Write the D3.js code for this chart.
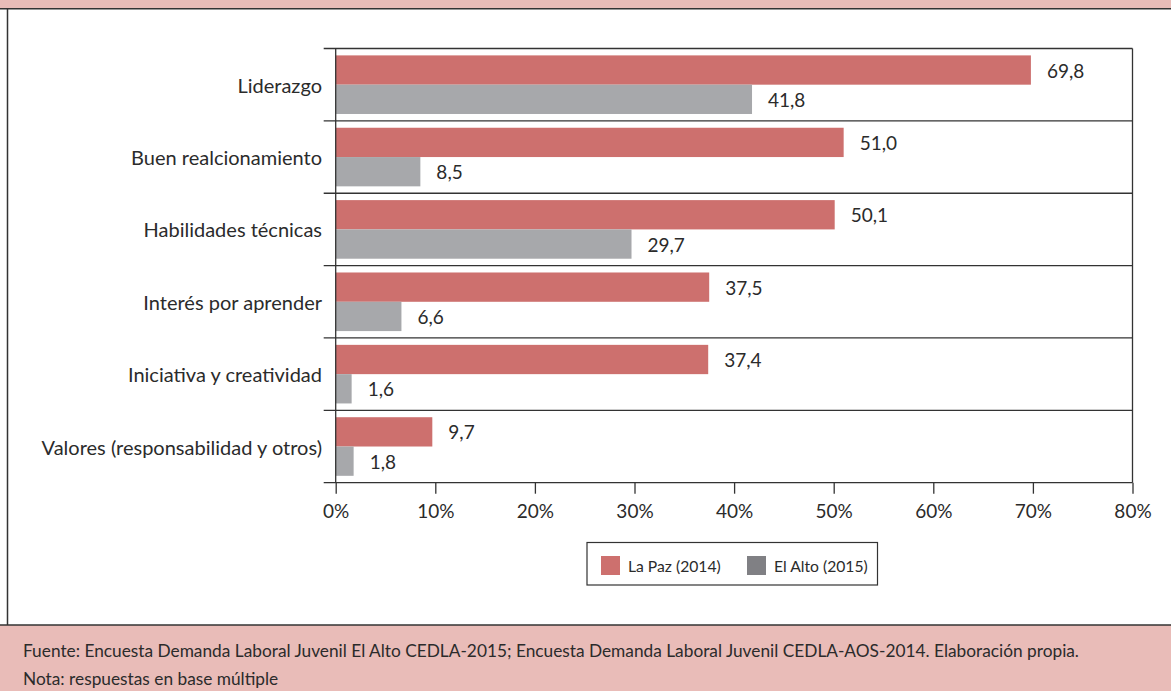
<!DOCTYPE html>
<html>
<head>
<meta charset="utf-8">
<script src="https://cdn.jsdelivr.net/npm/d3@7"></script>
<style>
  html, body { margin: 0; padding: 0; background: #ffffff; }
  svg { display: block; }
  text { font-family: Lato, "Open Sans", sans-serif; fill: #2b2b2b; }
</style>
</head>
<body>
<svg id="chart" width="1171" height="691"></svg>
<script>
// Competencias valoradas por los empleadores (% de respuestas)
const categories = [
  "Liderazgo",
  "Buen realcionamiento",
  "Habilidades técnicas",
  "Interés por aprender",
  "Iniciativa y creatividad",
  "Valores (responsabilidad y otros)"
];
const seriesNames = ["La Paz (2014)", "El Alto (2015)"];
const laPaz  = [69.8, 51.0, 50.1, 37.5, 37.4, 9.7];
const elAlto = [41.8, 8.5, 29.7, 6.6, 1.6, 1.8];
const xTicks = [0, 10, 20, 30, 40, 50, 60, 70, 80];
const sourceLines = [
  "Fuente: Encuesta Demanda Laboral Juvenil El Alto CEDLA-2015; Encuesta Demanda Laboral Juvenil CEDLA-AOS-2014. Elaboración propia.",
  "Nota: respuestas en base múltiple"
];

const barColors = ["#cd706e", "#a7a8ab"];
const legendColors = ["#cd706e", "#808084"];
const lineColor = "#333333";
const bandFill = "#e9bcb8";

const W = 1171, H = 691;
const svg = d3.select("#chart");

// Marco de la figura: franja superior, borde izquierdo y pie
svg.append("rect").attr("x", 0).attr("y", 0).attr("width", W).attr("height", 8.5).attr("fill", bandFill);
svg.append("line").attr("x1", 0).attr("x2", W).attr("y1", 8.75).attr("y2", 8.75)
  .attr("stroke", lineColor).attr("stroke-width", 1.5);
svg.append("line").attr("x1", 7.5).attr("x2", 7.5).attr("y1", 8.75).attr("y2", 625)
  .attr("stroke", lineColor).attr("stroke-width", 1.5);
svg.append("rect").attr("x", 0).attr("y", 625).attr("width", W).attr("height", H - 625).attr("fill", bandFill);
svg.append("line").attr("x1", 0).attr("x2", W).attr("y1", 625).attr("y2", 625)
  .attr("stroke", lineColor).attr("stroke-width", 1.5);

sourceLines.forEach((t, i) => {
  svg.append("text")
    .attr("x", 23).attr("y", 650 + i * 28)
    .attr("dominant-baseline", "central")
    .style("font-size", "17.3px")
    .text(t);
});

// Área de trazado
const plot = { left: 335.7, right: 1132.5, top: 48.5, bottom: 482.7 };

const x = d3.scaleLinear().domain([0, 80]).range([plot.left, plot.right]);
const y = d3.scaleBand().domain(categories).range([plot.top, plot.bottom]).padding(0);
const ySub = d3.scaleBand().domain(seriesNames).range([0, y.bandwidth()])
  .paddingInner(0).paddingOuter(0.235);

const g = svg.append("g");

// Separadores entre categorías (con marca a la izquierda del eje)
const bounds = categories.map(c => y(c)).concat([plot.bottom]);
g.selectAll("line.sep").data(bounds).join("line")
  .attr("class", "sep")
  .attr("x1", plot.left - 12).attr("x2", plot.right)
  .attr("y1", d => d).attr("y2", d => d)
  .attr("stroke", lineColor).attr("stroke-width", 1.3);

// Barras
const rows = categories.map((c, i) => ({ cat: c, values: [laPaz[i], elAlto[i]] }));
const groups = g.selectAll("g.cat").data(rows).join("g")
  .attr("class", "cat")
  .attr("transform", d => `translate(0,${y(d.cat)})`);

groups.selectAll("rect").data(d => d.values.map((v, j) => ({ v, s: seriesNames[j], j })))
  .join("rect")
  .attr("x", x(0))
  .attr("y", d => ySub(d.s))
  .attr("width", d => x(d.v) - x(0))
  .attr("height", ySub.bandwidth())
  .attr("fill", d => barColors[d.j]);

// Etiquetas de valor
const fmt = v => d3.format(".1f")(v).replace(".", ",");
groups.selectAll("text.val").data(d => d.values.map((v, j) => ({ v, s: seriesNames[j] })))
  .join("text")
  .attr("class", "val")
  .attr("x", d => x(d.v) + 16)
  .attr("y", d => ySub(d.s) + ySub.bandwidth() / 2)
  .attr("dominant-baseline", "central")
  .style("font-size", "19px")
  .text(d => fmt(d.v));

// Eje de categorías
g.selectAll("text.cat").data(categories).join("text")
  .attr("class", "cat")
  .attr("x", 322)
  .attr("y", d => y(d) + y.bandwidth() / 2)
  .attr("text-anchor", "end")
  .attr("dominant-baseline", "central")
  .style("font-size", "20px")
  .text(d => d);

// Eje X
const xAxis = d3.axisBottom(x)
  .tickValues(xTicks)
  .tickFormat(d => d + "%")
  .tickSize(11)
  .tickPadding(11)
  .tickSizeOuter(0);
const ax = svg.append("g").attr("transform", `translate(0,${plot.bottom})`).call(xAxis);
ax.select(".domain").remove();
ax.selectAll(".tick line").attr("stroke", lineColor).attr("stroke-width", 1.3);
ax.selectAll(".tick text").style("font-size", "19px").style("font-family", "Lato, 'Open Sans', sans-serif")
  .attr("fill", "#2b2b2b");

// Línea del eje vertical y borde derecho
svg.append("line").attr("x1", plot.left).attr("x2", plot.left)
  .attr("y1", plot.top).attr("y2", plot.bottom)
  .attr("stroke", lineColor).attr("stroke-width", 1.3);
svg.append("line").attr("x1", plot.right).attr("x2", plot.right)
  .attr("y1", plot.top).attr("y2", plot.bottom)
  .attr("stroke", lineColor).attr("stroke-width", 1.3);

// Leyenda
const legend = svg.append("g").attr("transform", "translate(587,542.5)");
legend.append("rect").attr("width", 290.5).attr("height", 42.5)
  .attr("fill", "#ffffff").attr("stroke", lineColor).attr("stroke-width", 1.2);
const legendX = [14, 160];
seriesNames.forEach((s, i) => {
  legend.append("rect").attr("x", legendX[i]).attr("y", 13.5).attr("width", 19).attr("height", 19)
    .attr("fill", legendColors[i]);
  legend.append("text").attr("x", legendX[i] + 27).attr("y", 23)
    .attr("dominant-baseline", "central")
    .style("font-size", "15.7px")
    .text(s);
});
</script>
</body>
</html>
